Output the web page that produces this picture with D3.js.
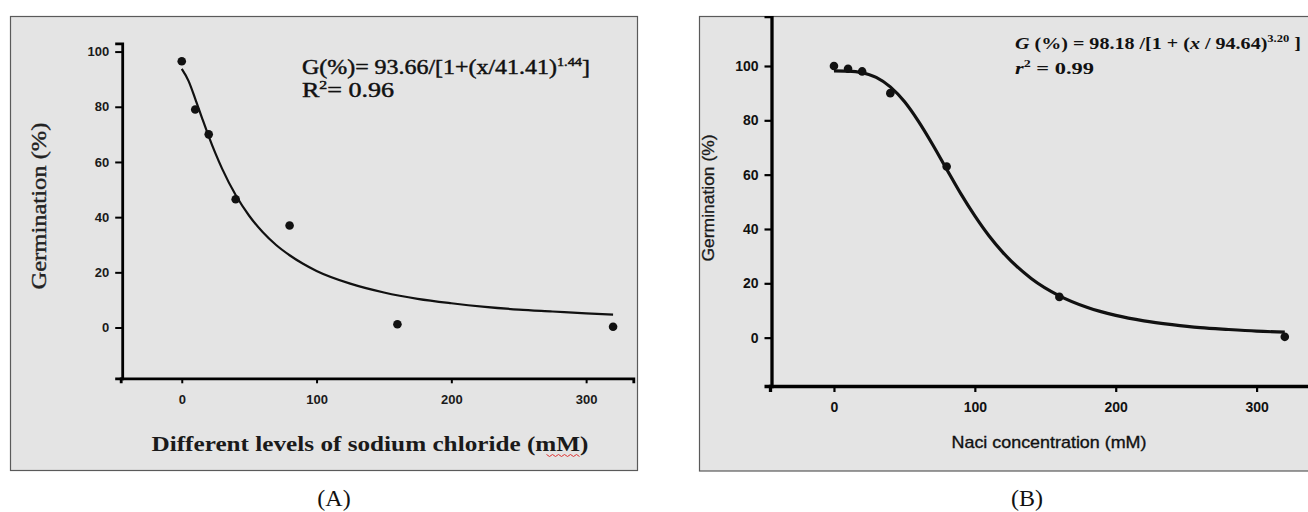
<!DOCTYPE html>
<html>
<head>
<meta charset="utf-8">
<script src="https://cdn.jsdelivr.net/npm/d3@7"></script>
<style>
  body { margin: 0; background: #fff; }
  svg { display: block; }
</style>
</head>
<body>
<svg id="chart" width="1308" height="512"></svg>
<script>
// Panel A: sodium chloride levels
const xTicks = [0, 100, 200, 300];
const yTicks = [0, 20, 40, 60, 80, 100];

const aDoseX = [0, 10, 20, 40, 80, 160, 320];
const aGermY = [96.5, 79, 70, 46.5, 37, 1.2, 0.3];
const aFitX = [0, 5, 10, 15, 20, 25, 30, 40, 50, 60, 70, 80, 90, 100, 125, 150, 175, 200, 225, 250, 275, 300, 320];
const aFitY = [93.7, 89.4, 82.9, 76.0, 69.3, 63.1, 57.5, 48.0, 40.5, 34.6, 29.9, 26.2, 23.1, 20.5, 15.9, 12.7, 10.4, 8.8, 7.5, 6.5, 5.8, 5.1, 4.7];

// Panel B: NaCl concentration
const bDoseX = [0, 10, 20, 40, 80, 160, 320];
const bGermY = [100, 99, 98, 90, 63, 15, 0.3];
const bFitX = [0, 10, 20, 30, 40, 50, 60, 70, 80, 90, 100, 110, 120, 140, 160, 180, 200, 220, 240, 260, 280, 300, 320];
const bFitY = [98.2, 98.1, 97.5, 95.8, 92.3, 86.9, 79.6, 71.1, 62.0, 53.0, 44.8, 37.5, 31.3, 21.8, 15.4, 11.1, 8.2, 6.2, 4.8, 3.7, 3.0, 2.4, 2.0];

const svg = d3.select('#chart');
const bg = '#e4e4e4';
const serif = 'Liberation Serif, Times New Roman, serif';
const sans = 'Liberation Sans, Arial, sans-serif';

//
// Panel A
//
svg.append('rect')
  .attr('x', 10.5).attr('y', 16.5)
  .attr('width', 627).attr('height', 454)
  .attr('fill', bg).attr('stroke', '#5a5a5a').attr('stroke-width', 1.2);

const xA = d3.scaleLinear().domain([-45.3, 335]).range([120.7, 633.3]);
const yA = d3.scaleLinear().domain([-18.4, 103]).range([378.3, 43.3]);

const gA = svg.append('g');

gA.append('g')
  .attr('transform', `translate(${xA.range()[0] + 1.5},0)`)
  .call(d3.axisLeft(yA).tickValues(yTicks).tickSizeOuter(0).tickSize(7).tickPadding(6))
  .call(g => g.select('.domain').attr('stroke-width', 2.8))
  .call(g => g.selectAll('.tick line').attr('stroke-width', 2))
  .call(g => g.selectAll('text')
    .attr('font-family', sans).attr('font-weight', 'bold')
    .attr('font-size', 13).attr('fill', '#1a1a1a'));

gA.append('g')
  .attr('transform', `translate(0,${yA.range()[0]})`)
  .call(d3.axisBottom(xA).tickValues(xTicks).tickSizeOuter(0).tickSize(5).tickPadding(11))
  .call(g => g.select('.domain').attr('stroke-width', 2.8))
  .call(g => g.selectAll('.tick line').attr('stroke-width', 2))
  .call(g => g.selectAll('text')
    .attr('font-family', sans).attr('font-weight', 'bold')
    .attr('font-size', 13).attr('fill', '#1a1a1a'));

gA.append('path')
  .datum(d3.zip(aFitX, aFitY))
  .attr('fill', 'none').attr('stroke', '#111').attr('stroke-width', 2.2)
  .attr('d', d3.line().x(d => xA(d[0])).y(d => yA(d[1])).curve(d3.curveMonotoneX));

gA.selectAll('circle')
  .data(d3.zip(aDoseX, aGermY))
  .join('circle')
  .attr('cx', d => xA(d[0])).attr('cy', d => yA(d[1]))
  .attr('r', 4.3).attr('fill', '#111');

const eqA = gA.append('text')
  .attr('x', 302).attr('y', 74)
  .attr('font-family', serif)
  .attr('font-size', 20).attr('fill', '#111')
  .attr('stroke', '#111').attr('stroke-width', 0.45)
  .attr('textLength', 288).attr('lengthAdjust', 'spacingAndGlyphs');
eqA.append('tspan').text('G(%)= 93.66/[1+(x/41.41)');
eqA.append('tspan').attr('dy', -8).attr('font-size', 12).text('1.44');
eqA.append('tspan').attr('dy', 8).text(']');

const rA = gA.append('text')
  .attr('x', 302).attr('y', 97)
  .attr('font-family', serif)
  .attr('font-size', 20).attr('fill', '#111')
  .attr('stroke', '#111').attr('stroke-width', 0.45)
  .attr('textLength', 92).attr('lengthAdjust', 'spacingAndGlyphs');
rA.append('tspan').text('R');
rA.append('tspan').attr('dy', -8).attr('font-size', 12).text('2');
rA.append('tspan').attr('dy', 8).text('= 0.96');

gA.append('text')
  .attr('transform', 'translate(46,206) rotate(-90)')
  .attr('text-anchor', 'middle')
  .attr('font-family', serif)
  .attr('font-size', 20).attr('fill', '#222')
  .attr('stroke', '#222').attr('stroke-width', 0.35)
  .attr('textLength', 167).attr('lengthAdjust', 'spacingAndGlyphs')
  .text('Germination (%)');

gA.append('text')
  .attr('x', 370).attr('y', 451)
  .attr('text-anchor', 'middle')
  .attr('font-family', serif)
  .attr('font-weight', 'bold')
  .attr('font-size', 21).attr('fill', '#1a1a1a')
  .attr('textLength', 437).attr('lengthAdjust', 'spacingAndGlyphs')
  .text('Different levels of sodium chloride (mM)');

// spell-check squiggle under "mM"
const endA = 370 + 437 / 2;
const squig = d3.range(endA - 42, endA - 6, 3);
gA.append('path')
  .attr('fill', 'none').attr('stroke', '#d33').attr('stroke-width', 1)
  .attr('d', d3.line()(squig.map((x, i) => [x, 455 + (i % 2 ? 1.5 : -0.5)])));

svg.append('text')
  .attr('x', 334).attr('y', 506)
  .attr('text-anchor', 'middle')
  .attr('font-family', serif)
  .attr('font-size', 24).attr('fill', '#111')
  .text('(A)');

//
// Panel B
//
const clipB = svg.append('clipPath').attr('id', 'clipB');
clipB.append('rect').attr('x', 700).attr('y', 16).attr('width', 700).attr('height', 455);

svg.append('rect')
  .attr('x', 699.5).attr('y', 16.5)
  .attr('width', 700).attr('height', 454.5)
  .attr('fill', bg).attr('stroke', '#5a5a5a').attr('stroke-width', 1.2);

const xB = d3.scaleLinear().domain([-45.4, 345]).range([770, 1320]);
const yB = d3.scaleLinear().domain([-17.8, 118.4]).range([386, 16]);

const gB = svg.append('g').attr('clip-path', 'url(#clipB)');

gB.append('g')
  .attr('transform', `translate(${xB.range()[0] + 1.5},0)`)
  .call(d3.axisLeft(yB).tickValues(yTicks).tickSizeOuter(0).tickSize(7).tickPadding(6))
  .call(g => g.select('.domain').attr('stroke-width', 3.3))
  .call(g => g.selectAll('.tick line').attr('stroke-width', 2.2))
  .call(g => g.selectAll('text')
    .attr('font-family', sans).attr('font-weight', 'bold')
    .attr('font-size', 14).attr('fill', '#111'));

gB.append('g')
  .attr('transform', `translate(0,${yB.range()[0]})`)
  .call(d3.axisBottom(xB).tickValues(xTicks).tickSizeOuter(0).tickSize(6).tickPadding(10))
  .call(g => g.select('.domain').attr('stroke-width', 3.3))
  .call(g => g.selectAll('.tick line').attr('stroke-width', 2.2))
  .call(g => g.selectAll('text')
    .attr('font-family', sans).attr('font-weight', 'bold')
    .attr('font-size', 14).attr('fill', '#111'));

gB.selectAll('circle')
  .data(d3.zip(bDoseX, bGermY))
  .join('circle')
  .attr('cx', d => xB(d[0])).attr('cy', d => yB(d[1]))
  .attr('r', 4.3).attr('fill', '#111');

gB.append('path')
  .datum(d3.zip(bFitX, bFitY))
  .attr('fill', 'none').attr('stroke', '#111').attr('stroke-width', 3.2)
  .attr('d', d3.line().x(d => xB(d[0])).y(d => yB(d[1])).curve(d3.curveMonotoneX));

const eqB = gB.append('text')
  .attr('x', 1015).attr('y', 49)
  .attr('font-family', serif)
  .attr('font-weight', 'bold')
  .attr('font-size', 16).attr('fill', '#111')
  .attr('textLength', 286).attr('lengthAdjust', 'spacingAndGlyphs');
eqB.append('tspan').attr('font-style', 'italic').text('G');
eqB.append('tspan').text(' (%)  = 98.18 /[1 + (');
eqB.append('tspan').attr('font-style', 'italic').text('x');
eqB.append('tspan').text(' / 94.64)');
eqB.append('tspan').attr('dy', -7).attr('font-size', 10).text('3.20');
eqB.append('tspan').attr('dy', 7).text(' ]');

const rB = gB.append('text')
  .attr('x', 1015).attr('y', 74)
  .attr('font-family', serif)
  .attr('font-weight', 'bold')
  .attr('font-size', 16).attr('fill', '#111')
  .attr('textLength', 79).attr('lengthAdjust', 'spacingAndGlyphs');
rB.append('tspan').attr('font-style', 'italic').text('r');
rB.append('tspan').attr('dy', -7).attr('font-size', 10).text('2');
rB.append('tspan').attr('dy', 7).text(' = 0.99');

gB.append('text')
  .attr('transform', 'translate(714,198) rotate(-90)')
  .attr('text-anchor', 'middle')
  .attr('font-family', sans)
  .attr('font-size', 16).attr('fill', '#1a1a1a')
  .attr('stroke', '#1a1a1a').attr('stroke-width', 0.3)
  .attr('textLength', 127).attr('lengthAdjust', 'spacingAndGlyphs')
  .text('Germination (%)');

gB.append('text')
  .attr('x', 1049).attr('y', 448)
  .attr('text-anchor', 'middle')
  .attr('font-family', sans)
  .attr('font-size', 17).attr('fill', '#111')
  .attr('stroke', '#111').attr('stroke-width', 0.35)
  .attr('textLength', 195).attr('lengthAdjust', 'spacingAndGlyphs')
  .text('Naci concentration (mM)');

svg.append('text')
  .attr('x', 1027).attr('y', 506)
  .attr('text-anchor', 'middle')
  .attr('font-family', serif)
  .attr('font-size', 24).attr('fill', '#111')
  .text('(B)');
</script>
</body>
</html>
